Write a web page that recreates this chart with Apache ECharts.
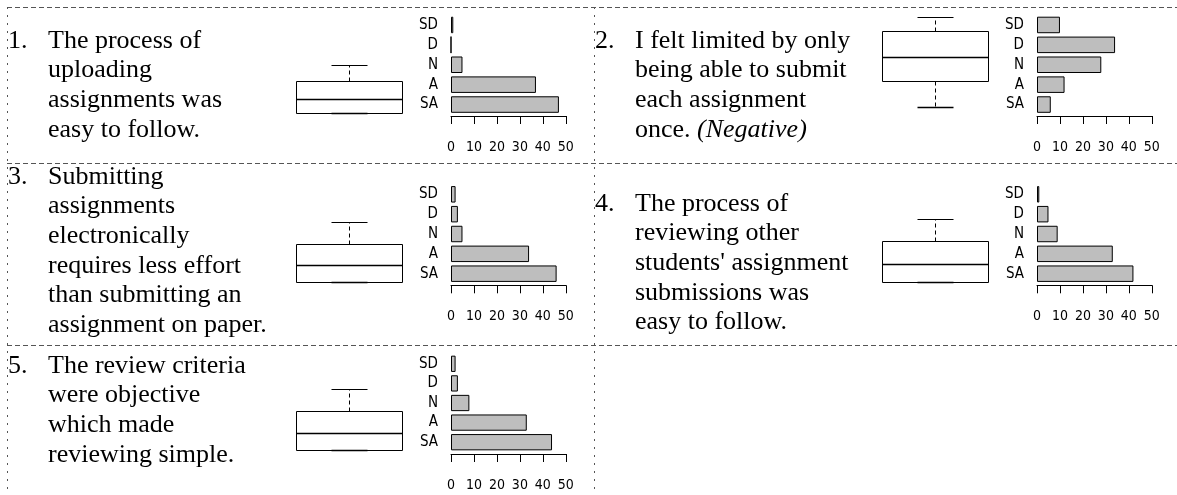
<!DOCTYPE html>
<html>
<head>
<meta charset="utf-8">
<style>
  html, body { margin: 0; padding: 0; background: #fff; }
  #chart { width: 1177px; height: 495px; }
</style>
<script src="https://cdn.jsdelivr.net/npm/echarts@6/dist/echarts.min.js"></script>
</head>
<body>
<div id="chart"></div>
<script>
// likert categories, top to bottom
const categories = ['SD', 'D', 'N', 'A', 'SA']

// response counts per question
const q1Counts = [1, 0, 5, 37, 47]
const q2Counts = [10, 34, 28, 12, 6]
const q3Counts = [2, 3, 5, 34, 46]
const q4Counts = [1, 5, 9, 33, 42]
const q5Counts = [2, 3, 8, 33, 44]

// box plot stats: [min, Q1, median, Q3, max] on a 1..5 scale
const q1Box = [1, 1, 1.62, 2.42, 3.13]
const q2Box = [1, 2.16, 3.22, 4.38, 5]
const q3Box = [1, 1, 1.76, 2.69, 3.67]
const q4Box = [1, 1, 1.8, 2.82, 3.8]
const q5Box = [1, 1, 1.76, 2.73, 3.71]

// question texts
const q1Text = ['The process of', 'uploading', 'assignments was', 'easy to follow.']
const q2Text = ['I felt limited by only', 'being able to submit', 'each assignment', 'once. {i|(Negative)}']
const q3Text = ['Submitting', 'assignments', 'electronically', 'requires less effort', 'than submitting an', 'assignment on paper.']
const q4Text = ['The process of', 'reviewing other', "students' assignment", 'submissions was', 'easy to follow.']
const q5Text = ['The review criteria', 'were objective', 'which made', 'reviewing simple.']

// layout of each panel (pixels)
const panels = [
  { num: '1.', lines: q1Text, counts: q1Counts, box: q1Box, nx: 8, tx: 48, base: 50, boxLeft: 296, boxTop: 23, barLeft: 451, barTop: 15, barH: 99.5, axOff: 1.5 },
  { num: '2.', lines: q2Text, counts: q2Counts, box: q2Box, nx: 595, tx: 635, base: 50, boxLeft: 882, boxTop: 17, barLeft: 1037, barTop: 15, barH: 99.5, axOff: 1.5 },
  { num: '3.', lines: q3Text, counts: q3Counts, box: q3Box, nx: 8, tx: 48, base: 186, boxLeft: 296, boxTop: 192, barLeft: 451, barTop: 184.4, barH: 99.2, axOff: 1.7 },
  { num: '4.', lines: q4Text, counts: q4Counts, box: q4Box, nx: 595, tx: 635, base: 213, boxLeft: 882, boxTop: 192, barLeft: 1037, barTop: 184.4, barH: 99.2, axOff: 1.7 },
  { num: '5.', lines: q5Text, counts: q5Counts, box: q5Box, nx: 8, tx: 48, base: 375, boxLeft: 296, boxTop: 360, barLeft: 451, barTop: 354, barH: 98, axOff: 2 }
]

const serif = "'Liberation Serif', 'Times New Roman', serif"
const narrow = "'Liberation Sans Narrow', 'DejaVu Sans Condensed', 'Liberation Sans', sans-serif"
const lineGap = 29.6

const grid = []
const xAxis = []
const yAxis = []
const series = []
const graphic = []

function crisp(v) {
  return Math.round(v) + 0.5
}

function renderBox(params, api) {
  const band = api.size([1, 0])[0]
  const c = api.coord([api.value(0), api.value(3)])
  const xc = c[0]
  const xl = crisp(xc - band / 2)
  const xr = crisp(xc + band / 2)
  const cx = crisp(xc)
  const y = i => crisp(api.coord([api.value(0), api.value(i)])[1])
  const cap = band / 6
  const black = { stroke: '#000', lineWidth: 1, fill: null }
  return {
    type: 'group',
    children: [
      { type: 'line', shape: { x1: cx, y1: y(4), x2: cx, y2: y(5) }, style: { stroke: '#000', lineWidth: 1, lineDash: [4, 3] } },
      { type: 'line', shape: { x1: cx, y1: y(2), x2: cx, y2: y(1) }, style: { stroke: '#000', lineWidth: 1, lineDash: [4, 3] } },
      { type: 'line', shape: { x1: crisp(xc - cap), y1: y(5), x2: crisp(xc + cap), y2: y(5) }, style: black },
      { type: 'rect', shape: { x: xl, y: y(4), width: xr - xl, height: y(2) - y(4) }, style: { stroke: '#000', lineWidth: 1, fill: '#fff' } },
      { type: 'line', shape: { x1: crisp(xc - cap), y1: y(1), x2: crisp(xc + cap), y2: y(1) }, style: { stroke: '#000', lineWidth: 1.5 } },
      { type: 'line', shape: { x1: xl, y1: y(3), x2: xr, y2: y(3) }, style: { stroke: '#000', lineWidth: 1.5 } }
    ]
  }
}

panels.forEach((p, i) => {
  // box plot grid
  grid.push({ left: p.boxLeft, top: p.boxTop, width: 106, height: 90 })
  xAxis.push({ gridIndex: 2 * i, type: 'category', data: [''], show: false })
  yAxis.push({ gridIndex: 2 * i, type: 'value', min: 1, max: 5, show: false })
  series.push({
    type: 'custom',
    xAxisIndex: 2 * i,
    yAxisIndex: 2 * i,
    renderItem: renderBox,
    data: [[0].concat(p.box)],
    silent: true
  })

  // bar chart grid
  grid.push({ left: p.barLeft, top: p.barTop, width: 114.8, height: p.barH })
  xAxis.push({
    gridIndex: 2 * i + 1,
    type: 'value',
    min: 0,
    max: 50,
    interval: 10,
    offset: p.axOff,
    splitLine: { show: false },
    axisLine: { show: true, lineStyle: { color: '#000', width: 1 } },
    axisTick: { show: true, length: 8, lineStyle: { color: '#000' } },
    axisLabel: { margin: 24, color: '#000', fontFamily: narrow, fontSize: 14 }
  })
  yAxis.push({
    gridIndex: 2 * i + 1,
    type: 'category',
    data: categories,
    inverse: true,
    axisLine: { show: false },
    axisTick: { show: false },
    axisLabel: { margin: 13, color: '#000', fontFamily: narrow, fontSize: 15 }
  })
  series.push({
    type: 'bar',
    xAxisIndex: 2 * i + 1,
    yAxisIndex: 2 * i + 1,
    data: p.counts,
    barWidth: '83%',
    itemStyle: { color: '#bebebe', borderColor: '#000', borderWidth: 1 },
    silent: true
  })

  // question text
  graphic.push({
    type: 'text', x: p.nx, y: p.base - 9,
    style: { text: p.num, font: '26px ' + serif, fill: '#000', verticalAlign: 'middle' }
  })
  p.lines.forEach((line, k) => {
    graphic.push({
      type: 'text', x: p.tx, y: p.base - 9 + k * lineGap,
      style: {
        text: line, font: '26px ' + serif, fill: '#000', verticalAlign: 'middle',
        rich: { i: { fontFamily: serif, fontSize: 26, fontStyle: 'italic', fill: '#000' } }
      }
    })
  })
})

// panel borders
const dashed = { stroke: '#555', lineWidth: 1, lineDash: [5, 3] }
const dotted = { stroke: '#555', lineWidth: 1, lineDash: [2, 6] }
;[7.5, 163.5, 345.5].forEach(y => {
  graphic.push({ type: 'line', shape: { x1: 7, y1: y, x2: 1177, y2: y }, style: dashed, silent: true })
})
;[7.5, 594.5].forEach(x => {
  graphic.push({ type: 'line', shape: { x1: x, y1: 7, x2: x, y2: 495 }, style: dotted, silent: true })
})

const chart = echarts.init(document.getElementById('chart'))
chart.setOption({
  animation: false,
  backgroundColor: '#fff',
  grid: grid,
  xAxis: xAxis,
  yAxis: yAxis,
  series: series,
  graphic: graphic
})
</script>
</body>
</html>
